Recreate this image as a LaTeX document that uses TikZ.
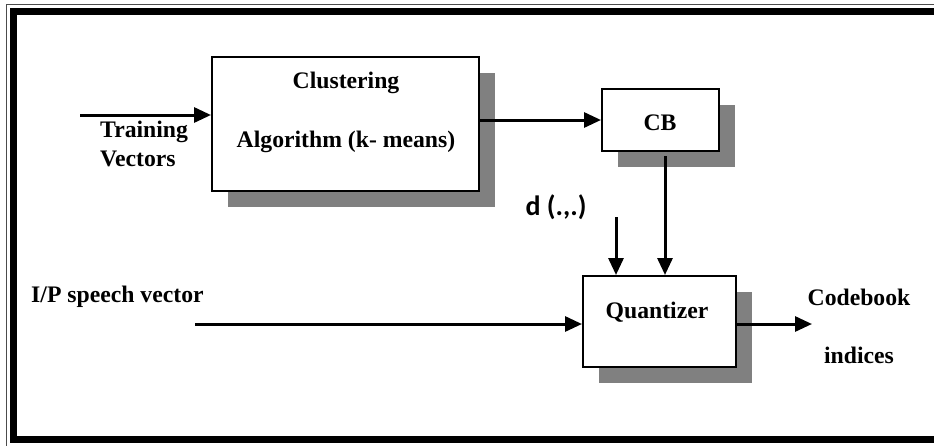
\documentclass[tikz,border=0pt]{standalone}
\usepackage{fontspec}
\setmainfont{Liberation Serif}
\newfontfamily\dfont{Carlito}
\usetikzlibrary{arrows.meta,shadows,calc}
\definecolor{shadowgray}{HTML}{808080}
\begin{document}
\begin{tikzpicture}[x=1pt,y=-1pt,
  txt/.style={font=\fontsize{23.7}{28.4}\selectfont\bfseries, inner sep=0pt},
  blockbox/.style={draw=black, line width=2pt, fill=white, inner sep=0pt,
    drop shadow={shadow xshift=16pt, shadow yshift=-16pt, fill=shadowgray, opacity=1}},
  arr/.style={line width=3pt, -{Triangle[length=17pt,width=15pt]}}]
\useasboundingbox (0,0) rectangle (934,445);
\begin{scope}
\clip (0,0) rectangle (934,445);
\draw[line width=1pt, black!70] (6,4) rectangle (960,460);
\draw[line width=7.5pt, black] (13.5,11.5) rectangle (950,439.5);
\end{scope}
% boxes
\node[blockbox, minimum width=267pt, minimum height=134pt] (clust) at (345.5,124) {};
\node[blockbox, minimum width=117pt, minimum height=62pt] (cb) at (660.5,120) {};
\node[blockbox, minimum width=153pt, minimum height=91pt] (q) at (659.5,321.5) {};
% texts
\node[txt] (cl1) at (346,83) {Clustering};
\node[txt] (cl2) at (346,142) {Algorithm (k- means)};
\node[txt] (cbt) at (660,123) {CB};
\node[txt] (qt) at (657,312) {Quantizer};
\node[txt, align=left, anchor=west] (tv) at (100,144) {Training\\Vectors};
\node[txt, anchor=west] (ip) at (31,297) {I/P speech vector};
\node[txt] (cbk) at (859,297) {Codebook};
\node[txt] (ind) at (859,355) {indices};
\node[font=\fontsize{28}{32}\dfont\bfseries, inner sep=0pt] (dl) at (556,207) {d (.,.)};
% connectors
\coordinate (tin) at (80,115);
\coordinate (dtop) at (616,217);
\coordinate (sin) at (195,324);
\coordinate (sout) at (812,324);
\coordinate (cbo) at ($(cb.south)+(4.5,4)$);
\draw[arr] (tin) -- (tin -| clust.west);
\draw[arr] (clust.east |- cb.west) -- (cb.west);
\draw[arr] (cbo) -- (cbo |- q.north);
\draw[arr] (dtop) -- (dtop |- q.north);
\draw[arr] (sin) -- (sin -| q.west);
\draw[arr] (q.east |- sout) -- (sout);
\end{tikzpicture}
\end{document}
